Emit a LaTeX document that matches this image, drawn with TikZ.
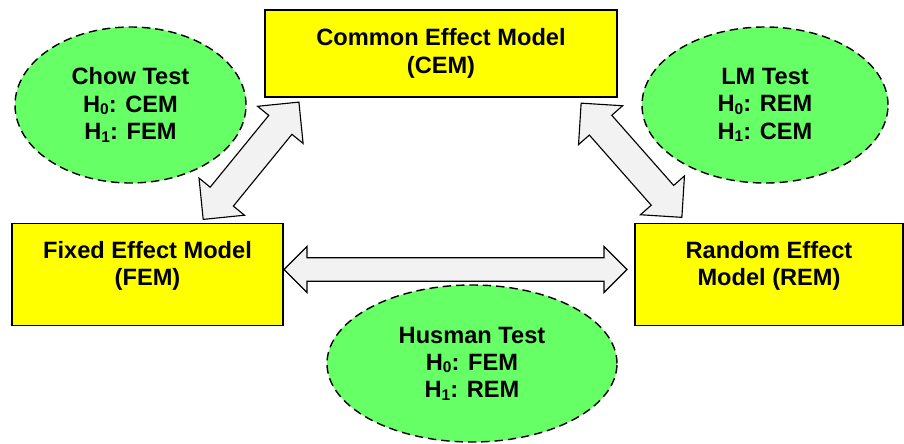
\documentclass[tikz,border=0pt]{standalone}
\usepackage{fontspec}
\setmainfont{Liberation Sans}
\usetikzlibrary{shapes.geometric, shapes.arrows, calc}
\definecolor{boxyellow}{HTML}{FFFF00}
\definecolor{testgreen}{HTML}{66FF66}
\definecolor{linkgray}{HTML}{F2F2F2}
\newcommand{\hsub}[1]{H\raisebox{-0.1em}{\fontsize{11}{11}\selectfont#1}}

\begin{document}
\begin{tikzpicture}[
    font=\fontsize{16.8}{19.5}\selectfont\bfseries,
    modelbox/.style={draw, line width=1.4pt, fill=boxyellow, rectangle,
        inner sep=0pt, align=center},
    testoval/.style={draw, line width=1pt, dash pattern=on 6pt off 3.5pt,
        fill=testgreen, ellipse, inner sep=0pt, align=center},
    linkarrow/.style={draw, line width=0.8pt, fill=linkgray, double arrow,
        inner xsep=0pt, inner ysep=#1, double arrow head extend=#1},
    linkarrow/.default=0.28cm]
    \useasboundingbox (0,0) rectangle (22.6,11.075);

    \node[modelbox, minimum width=8.8cm, minimum height=2.175cm] (cem)
        at (11.025,9.7375) {Common Effect Model\\(CEM)};
    \node[modelbox, minimum width=6.775cm, minimum height=2.55cm] (fem)
        at (3.6875,4.2125) {Fixed Effect Model\\(FEM)\\[-4pt]\mbox{}};
    \node[modelbox, minimum width=6.7cm, minimum height=2.55cm] (rem)
        at (19.225,4.2125) {Random Effect\\Model (REM)\\[-4pt]\mbox{}};

    \node[testoval, minimum width=5.775cm, minimum height=3.9cm] (chow)
        at (3.2625,8.45) {Chow Test\\\hsub{0}: CEM\\\hsub{1}: FEM};
    \node[testoval, minimum width=6.15cm, minimum height=3.9cm] (lm)
        at (19.125,8.45) {LM Test\\\hsub{0}: REM\\\hsub{1}: CEM};
    \node[testoval, minimum width=7.25cm, minimum height=3.925cm] (husman)
        at (11.8,1.9875) {Husman Test\\\hsub{0}: FEM\\\hsub{1}: REM};

    \coordinate (femtop) at ([xshift=1.39cm, yshift=0.075cm]fem.north);
    \coordinate (cemleft) at ([xshift=0.875cm, yshift=-0.1cm]cem.south west);
    \coordinate (cemright) at ([xshift=-0.925cm, yshift=-0.125cm]cem.south east);
    \coordinate (remtop) at ([xshift=1.2cm, yshift=0.125cm]rem.north west);
    \coordinate (femside) at ([yshift=0.125cm]fem.east);
    \coordinate (remside) at ([xshift=-0.175cm, yshift=0.125cm]rem.west);

    \path let \p1=($(cemleft)-(femtop)$), \n1={veclen(\x1,\y1)}, \n2={atan2(\y1,\x1)} in
        node[linkarrow=0.36cm, minimum height=\n1, rotate=\n2]
        (chowlink) at ($(femtop)!0.5!(cemleft)$) {};
    \path let \p1=($(cemright)-(remtop)$), \n1={veclen(\x1,\y1)}, \n2={atan2(\y1,\x1)} in
        node[linkarrow=0.36cm, minimum height=\n1, rotate=\n2]
        (lmlink) at ($(remtop)!0.5!(cemright)$) {};
    \path let \p1=($(remside)-(femside)$), \n1={veclen(\x1,\y1)} in
        node[linkarrow, minimum height=\n1]
        (husmanlink) at ($(femside)!0.5!(remside)$) {};
\end{tikzpicture}
\end{document}
